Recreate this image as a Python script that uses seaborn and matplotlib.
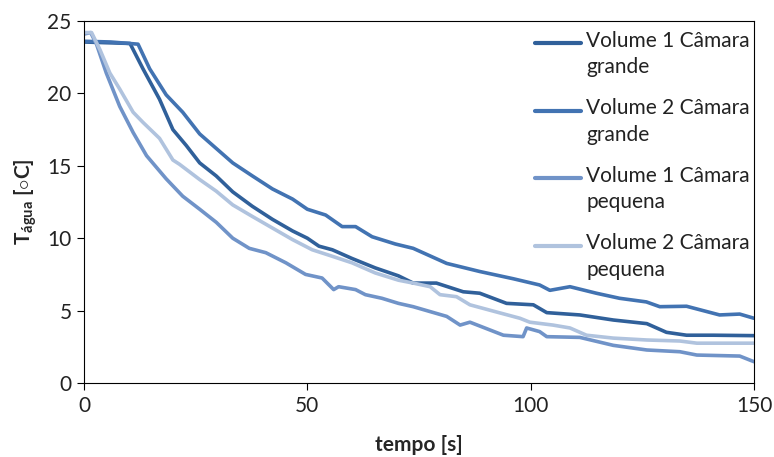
import numpy as np
import pandas as pd
import matplotlib
matplotlib.use("Agg")
import matplotlib.pyplot as plt
import seaborn as sns

series_names = ["Volume 1 Câmara\ngrande", "Volume 2 Câmara\ngrande",
                "Volume 1 Câmara\npequena", "Volume 2 Câmara\npequena"]

t_v1_grande = [0, 5, 10.3, 13.2, 16.9, 19.9, 22.9, 25.9, 29.6, 33.3, 37.7, 42.2, 46.7, 50, 52.6,
               55.6, 60, 65.2, 70.4, 73.7, 78.9, 84.9, 88.6, 94.6, 100.6, 103.6, 111, 118.5,
               126, 130.4, 134.9, 140.9, 150]
T_v1_grande = [23.55, 23.5, 23.45, 21.7, 19.6, 17.5, 16.4, 15.2, 14.3, 13.2, 12.2, 11.3, 10.5,
               10.0, 9.45, 9.2, 8.6, 7.95, 7.4, 6.9, 6.9, 6.3, 6.2, 5.5, 5.4, 4.86, 4.7, 4.35,
               4.1, 3.5, 3.3, 3.3, 3.27]

t_v2_grande = [0, 6, 12.1, 14.7, 18.4, 22.1, 25.9, 29.6, 33.3, 37.7, 42.2, 46.7, 50, 54.1, 57.8,
               60.8, 64.5, 69.7, 73.7, 81.2, 88.6, 96.1, 102, 104.3, 108.8, 114.7, 119.9, 125.9,
               128.9, 134.9, 142.3, 146.8, 150]
T_v2_grande = [23.6, 23.55, 23.4, 21.7, 19.9, 18.7, 17.2, 16.2, 15.2, 14.3, 13.4, 12.7, 12.0,
               11.6, 10.8, 10.8, 10.1, 9.6, 9.3, 8.26, 7.7, 7.2, 6.77, 6.4, 6.65, 6.2, 5.85,
               5.6, 5.27, 5.3, 4.7, 4.76, 4.47]

t_v1_pequena = [0, 1.5, 2.8, 5, 8, 11, 14, 18.4, 22.1, 25.9, 29.6, 33.3, 37, 40.7, 45.2, 49.6,
                53.3, 55.9, 57, 60.8, 63, 66.7, 70.4, 73.7, 81.2, 84.2, 86.4, 93.9, 98.3, 99.1,
                102, 103.6, 111, 118.5, 126, 133.4, 137.2, 146.8, 150]
T_v1_pequena = [24.1, 24.2, 23.4, 21.4, 19.1, 17.3, 15.7, 14.1, 12.9, 12.0, 11.1, 10.0, 9.3,
                9.0, 8.3, 7.5, 7.25, 6.45, 6.65, 6.45, 6.1, 5.85, 5.5, 5.27, 4.6, 4.0, 4.2, 3.3,
                3.2, 3.8, 3.55, 3.2, 3.15, 2.6, 2.28, 2.16, 1.93, 1.86, 1.47]

t_v2_pequena = [0, 1.7, 3.6, 5.8, 8, 11, 13.2, 16.9, 19.9, 21.4, 25.9, 29.6, 33.3, 37.7, 42.2,
                46.7, 51.1, 55.6, 60, 65.2, 70.4, 73.7, 77.5, 79.7, 83.4, 86.4, 92.4, 97.6, 99.8,
                105, 108.8, 112.5, 118.5, 126, 133.4, 137.2, 150]
T_v2_pequena = [24.2, 24.2, 23.0, 21.4, 20.3, 18.7, 18.0, 16.9, 15.4, 15.1, 14.05, 13.25, 12.3,
                11.5, 10.7, 9.9, 9.2, 8.75, 8.3, 7.6, 7.1, 6.9, 6.65, 6.1, 5.96, 5.4, 4.9, 4.47,
                4.2, 4.0, 3.8, 3.3, 3.1, 2.97, 2.9, 2.75, 2.75]

x_ticks = [0, 50, 100, 150]
y_ticks = [0, 5, 10, 15, 20, 25]

colors = ["#30609A", "#4273B2", "#7093C8", "#B0C3DE"]

frames = []
for name, t, T in zip(series_names,
                      [t_v1_grande, t_v2_grande, t_v1_pequena, t_v2_pequena],
                      [T_v1_grande, T_v2_grande, T_v1_pequena, T_v2_pequena]):
    frames.append(pd.DataFrame({"tempo": t, "T": T, "serie": name}))
df = pd.concat(frames, ignore_index=True)

sns.set_theme(style="white")
plt.rcParams["font.family"] = ["Lato", "DejaVu Sans"]
plt.rcParams["mathtext.fontset"] = "custom"
plt.rcParams["mathtext.rm"] = "Lato"
plt.rcParams["mathtext.bf"] = "Lato:bold"
plt.rcParams["mathtext.it"] = "Lato:italic"

fig = plt.figure(figsize=(7.74, 4.57), dpi=100)
ax = fig.add_axes([84 / 774, 1 - 383 / 457, 670 / 774, 362 / 457])

sns.lineplot(data=df, x="tempo", y="T", hue="serie", hue_order=series_names,
             palette=colors, estimator=None, sort=False, linewidth=2.6, ax=ax)

ax.set_xlim(0, 150)
ax.set_ylim(0, 25)
ax.set_xticks(x_ticks)
ax.set_yticks(y_ticks)
ax.tick_params(axis="both", which="major", direction="out", length=5, width=0.8,
               color="black", labelsize=15, labelcolor="#222222", bottom=True, left=True, pad=4)
for s in ax.spines.values():
    s.set_color("black")
    s.set_linewidth(0.8)

ax.set_xlabel("tempo [s]", fontsize=15, fontweight="bold", labelpad=14)
ax.set_ylabel(r"T$_{\mathbf{água}}$ [$\circ$C]", fontsize=15, fontweight="bold", labelpad=6)

leg = ax.legend(loc="upper right", bbox_to_anchor=(1.0, 0.985), frameon=False, fontsize=15,
                handlelength=2.2, handletextpad=0.25, labelspacing=1.0, borderpad=0.2,
                borderaxespad=0.0)
for txt in leg.get_texts():
    txt.set_linespacing(1.42)
    txt.set_color("#222222")
for line in leg.get_lines():
    line.set_linewidth(3)

# align each legend handle with the first line of its label (as in the reference)
fig.canvas.draw()
renderer = fig.canvas.get_renderer()
for line, txt in zip(leg.get_lines(), leg.get_texts()):
    tb = txt.get_window_extent(renderer)
    lb = line.get_window_extent(renderer)
    target = tb.y1 - 12.5
    cur = 0.5 * (lb.y0 + lb.y1)
    shift_pts = (target - cur) * 72.0 / fig.dpi
    yd = np.asarray(line.get_ydata(), dtype=float)
    line.set_ydata(yd + shift_pts)

fig.savefig("out.png", dpi=100)
